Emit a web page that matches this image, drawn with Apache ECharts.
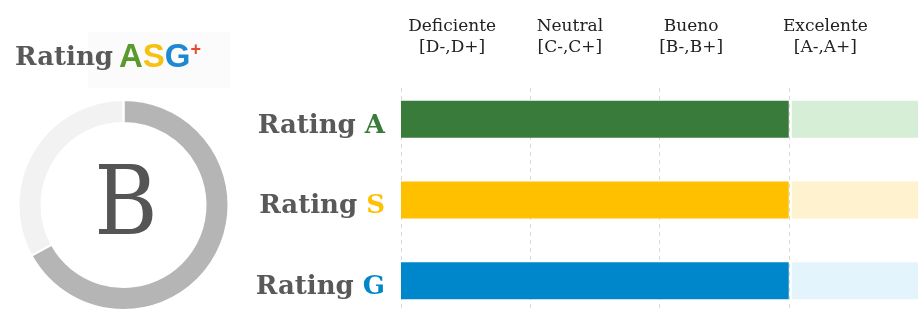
<!DOCTYPE html>
<html>
<head>
<meta charset="utf-8">
<script src="https://cdn.jsdelivr.net/npm/echarts@6/dist/echarts.min.js"></script>
<style>html,body{margin:0;padding:0;background:#fff;}#c{width:918px;height:311px;}</style>
</head>
<body>
<div id="c"></div>
<script>
const categories = ['A', 'S', 'G'];
const ratingColors = ['#387B3A', '#FFC000', '#0086CA'];
const lightColors = ['#D6EDD6', '#FFF2CF', '#E4F4FC'];
const scoreValues = [3, 3, 3];
const maxScore = 4;
const levelLabels = ['Deficiente\n[D-,D+]', 'Neutral\n[C-,C+]', 'Bueno\n[B-,B+]', 'Excelente\n[A-,A+]'];
const levelShift = [27, 50, 66, 56];
const donutValues = [67, 33];
const overallRating = 'B';

const serif = '"DejaVu Serif", serif';
const chart = echarts.init(document.getElementById('c'), null, {renderer: 'canvas'});

const rich = {
  r: {color: '#595959', fontFamily: serif, fontWeight: 'bold', fontSize: 26}
};
categories.forEach((c, i) => {
  rich['c' + i] = {color: ratingColors[i], fontFamily: serif, fontWeight: 'bold', fontSize: 26};
});

const restData = scoreValues.map((v, i) => [v, maxScore, i]);

chart.setOption({
  animation: false,
  grid: [
    {left: 401, right: 0, top: 79, bottom: -10, containLabel: false, outerBoundsMode: 'none'},
    {left: 401, right: 0, top: 88, bottom: 0, containLabel: false, outerBoundsMode: 'none'}
  ],
  xAxis: [
    {
      gridIndex: 0, type: 'value', min: 0, max: maxScore, interval: 1,
      axisLine: {show: false}, axisTick: {show: false}, axisLabel: {show: false}, splitLine: {show: false}
    },
    {
      gridIndex: 1, type: 'category', position: 'top', boundaryGap: true,
      data: levelLabels.map((l, i) => ({value: l, textStyle: {padding: [0, levelShift[i], 0, 0]}})),
      axisLine: {show: false}, axisTick: {show: false},
      axisLabel: {
        interval: 0, margin: 30, color: '#222', fontFamily: serif, fontSize: 17, lineHeight: 21, align: 'center'
      },
      splitLine: {show: true, interval: 0, lineStyle: {color: '#d9d9d9', type: [4, 4], width: 1}}
    }
  ],
  yAxis: [
    {
      gridIndex: 0, type: 'category', data: categories, inverse: true,
      axisLine: {show: false}, axisTick: {show: false}, splitLine: {show: false},
      axisLabel: {
        margin: 16, padding: [13, 0, 0, 0],
        formatter: (v, i) => '{r|Rating }{c' + i + '|' + v + '}',
        rich: rich
      }
    },
    {gridIndex: 1, type: 'value', show: false}
  ],
  series: [
    {
      type: 'bar', xAxisIndex: 0, yAxisIndex: 0, barWidth: 37, z: 3,
      data: scoreValues.map((v, i) => ({value: v, itemStyle: {color: ratingColors[i]}}))
    },
    {
      type: 'custom', xAxisIndex: 0, yAxisIndex: 0, z: 2,
      encode: {x: [0, 1], y: 2},
      data: restData,
      renderItem: function (params, api) {
        const y = api.value(2);
        const s = api.coord([api.value(0), y]);
        const e = api.coord([api.value(1), y]);
        const h = 37;
        return {
          type: 'rect',
          shape: {x: s[0] + 3, y: s[1] - h / 2, width: e[0] - s[0] - 3, height: h},
          style: {fill: lightColors[params.dataIndex]}
        };
      }
    },
    {
      type: 'pie', center: [123.5, 205], radius: [82, 105], startAngle: 90, clockwise: true,
      silent: true, label: {show: false}, labelLine: {show: false},
      itemStyle: {borderColor: '#fff', borderWidth: 2},
      data: [
        {value: donutValues[0], itemStyle: {color: '#B5B5B5'}},
        {value: donutValues[1], itemStyle: {color: '#F2F2F2'}}
      ]
    }
  ],
  graphic: [
    {type: 'rect', left: 88, top: 32, shape: {width: 142, height: 56}, style: {fill: '#FBFBFB'}, z: 0},
    {
      type: 'text', x: 15, y: 58, z: 5,
      style: {
        text: '{r|Rating}{a|A}{s|S}{g|G}{p|+}',
        textVerticalAlign: 'middle',
        rich: {
          r: {fontFamily: serif, fontWeight: 'bold', fontSize: 26, fill: '#595959'},
          a: {fontFamily: '"Liberation Sans", Arial, sans-serif', fontWeight: 'bold', fontSize: 33, fill: '#5A9A2C', padding: [0, 0, 0, 6]},
          s: {fontFamily: '"Liberation Sans", Arial, sans-serif', fontWeight: 'bold', fontSize: 33, fill: '#F7C10F'},
          g: {fontFamily: '"Liberation Sans", Arial, sans-serif', fontWeight: 'bold', fontSize: 33, fill: '#1E88D0'},
          p: {fontFamily: '"Liberation Sans", Arial, sans-serif', fontWeight: 'bold', fontSize: 18, fill: '#E64A2E', verticalAlign: 'top', padding: [0, 0, 14, 0]}
        }
      }
    },
    {
      type: 'text', x: 126, y: 209, z: 5,
      style: {
        text: overallRating, textAlign: 'center', textVerticalAlign: 'middle',
        fontFamily: '"DejaVu Serif Condensed", "DejaVu Serif", serif', fontSize: 96, fill: '#555555'
      }
    }
  ]
});
</script>
</body>
</html>
